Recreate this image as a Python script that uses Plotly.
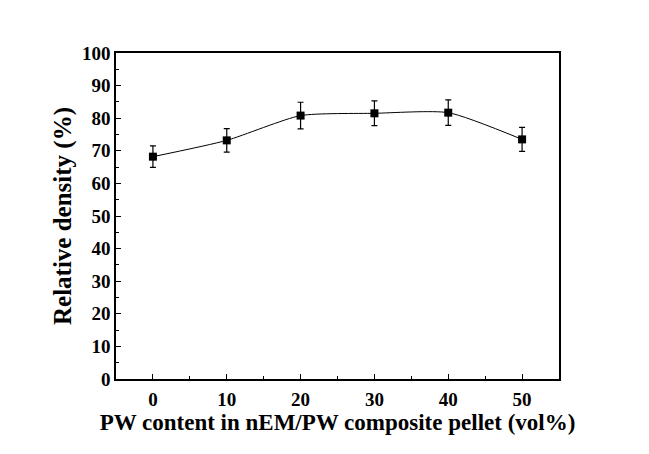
import plotly.graph_objects as go

pw_content = [0, 10, 20, 30, 40, 50]
rel_density = [68.2, 73.2, 80.8, 81.5, 81.7, 73.5]
density_err = [3.3, 3.6, 4.1, 3.8, 3.9, 3.7]

font = "Liberation Serif"

fig = go.Figure()

# smooth guide line through the points
fig.add_trace(go.Scatter(
    x=pw_content, y=rel_density, mode="lines",
    line=dict(color="black", width=1, shape="spline", smoothing=0.6),
    hoverinfo="skip",
))

fig.add_trace(go.Scatter(
    x=pw_content, y=rel_density, mode="markers",
    marker=dict(symbol="square", size=8, color="black"),
    error_y=dict(type="data", array=density_err, color="black", thickness=1.2, width=3),
))

# page body has an 8px margin, so margins are shifted to keep the plot box in place
fig.update_layout(
    width=649, height=454,
    margin=dict(l=108, r=98, t=45, b=83),
    plot_bgcolor="white", paper_bgcolor="white",
    showlegend=False,
    font=dict(family=font, color="black"),
)

fig.update_xaxes(
    range=[-5, 55], tickvals=[0, 10, 20, 30, 40, 50],
    ticks="inside", ticklen=5, tickwidth=1.2, tickcolor="black",
    minor=dict(dtick=5, tick0=0, ticks="inside", ticklen=3, tickcolor="black"),
    showline=True, linecolor="black", linewidth=1.5, mirror=True,
    showgrid=False, zeroline=False, ticklabelstandoff=2,
    tickfont=dict(size=19, family=font, weight="bold"),
    title=dict(text="PW content in nEM/PW composite pellet (vol%)",
               font=dict(size=23, family=font, weight="bold"), standoff=0),
)

fig.update_yaxes(
    range=[0, 100], dtick=10,
    ticks="inside", ticklen=5, tickwidth=1.2, tickcolor="black",
    minor=dict(dtick=5, tick0=0, ticks="inside", ticklen=3, tickcolor="black"),
    showline=True, linecolor="black", linewidth=1.5, mirror=True,
    showgrid=False, zeroline=False,
    tickfont=dict(size=19, family=font, weight="bold"),
    title=dict(text="Relative density (%)",
               font=dict(size=25, family=font, weight="bold"), standoff=3),
)

fig.write_html("out.html")
